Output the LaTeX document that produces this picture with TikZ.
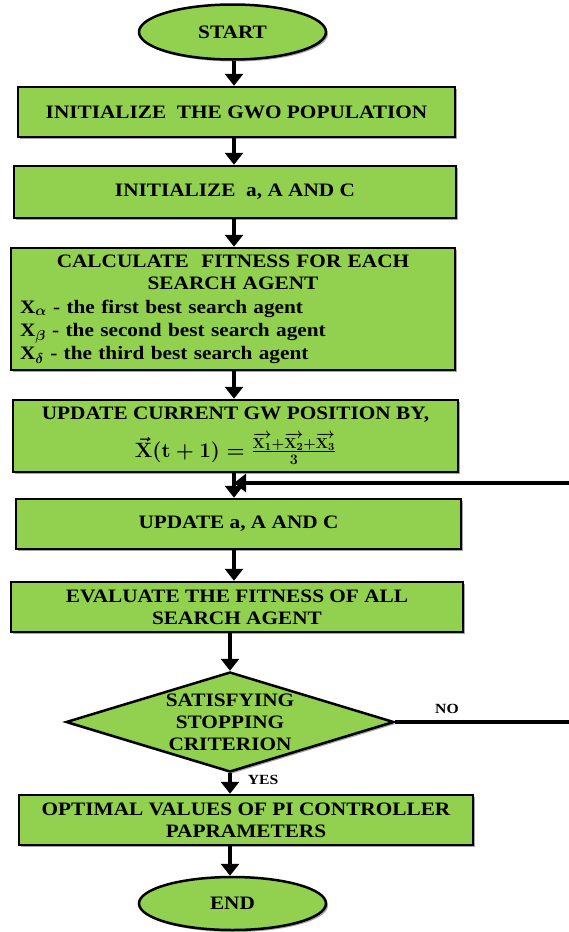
\documentclass[tikz,border=0pt]{standalone}
\usepackage{amsmath}
\usepackage{fontspec}
\setmainfont{Liberation Serif}[FakeStretch=1.12]
\usetikzlibrary{shapes.geometric,arrows.meta,shadows}
\definecolor{gwgreen}{RGB}{146,208,80}
\tikzset{
  base/.style={draw=black, line width=2.5pt, fill=gwgreen,
    drop shadow={shadow xshift=2pt, shadow yshift=-2pt, fill=black, opacity=0.35},
    font=\fontsize{19}{22}\selectfont\bfseries, align=center, inner sep=4pt},
  box/.style={base, rectangle},
  term/.style={base, ellipse, minimum width=187pt, minimum height=55pt},
  decision/.style={base, diamond, aspect=3.28, inner sep=0pt},
  flow/.style={line width=4.5pt, -{Triangle[length=12pt,width=18pt]}},
  plain/.style={line width=4.5pt},
  lbl/.style={font=\fontsize{14}{16}\selectfont\bfseries}
}
\begin{document}
\begin{tikzpicture}[x=1pt,y=1pt]
\useasboundingbox (0,0) rectangle (569,-932);
\coordinate (col) at (234,0);

\node[term] (start) at (232.5,-32) {START};
\node[box, minimum width=437pt, minimum height=50pt] (init) at (236.5,-112) {INITIALIZE~ THE GWO POPULATION};
\node[box, minimum width=442pt, minimum height=52pt] (initc) at (235,-192) {INITIALIZE~ a, A AND C};
\node[box, minimum width=444pt, minimum height=122pt, text width=432pt] (calc) at (233,-309)
  {\centering CALCULATE~ FITNESS FOR EACH\\ SEARCH AGENT\par\vspace{1pt}
   \fontsize{19}{23}\selectfont\raggedright
   \hspace*{3pt}X\textsubscript{$\boldsymbol{\alpha}$} - the first best search agent\\
   \hspace*{3pt}X\textsubscript{$\boldsymbol{\beta}$} - the second best search agent\\
   \hspace*{3pt}X\textsubscript{$\boldsymbol{\delta}$} - the third best search agent\par};
\node[box, minimum width=445pt, minimum height=72pt] (upd) at (235.5,-436)
  {UPDATE CURRENT GW POSITION BY,\\[9pt]
   {\fontsize{21}{24}\selectfont\boldmath$\vec{\mathbf{X}}(\mathbf{t}+\mathbf{1})=\frac{\overrightarrow{\mathbf{X_1}}+\overrightarrow{\mathbf{X_2}}+\overrightarrow{\mathbf{X_3}}}{\mathbf{3}}$}};
\node[box, minimum width=445pt, minimum height=50pt] (upda) at (238.5,-524) {UPDATE a, A AND C};
\node[box, minimum width=452pt, minimum height=50pt] (eval) at (237,-607) {EVALUATE THE FITNESS OF ALL\\ SEARCH AGENT};
\node[decision, minimum width=328pt, minimum height=100pt] (stop) at (230,-722) {SATISFYING\\ STOPPING\\ CRITERION};
\node[box, minimum width=454pt, minimum height=50pt] (opt) at (246,-820) {OPTIMAL VALUES OF PI CONTROLLER\\ PAPRAMETERS};
\node[term, minimum height=53pt] (end) at (232.5,-903.5) {END};

\coordinate (r1) at (569,-722);
\coordinate (r2) at (569,-483);

\draw[flow] (start.south -| col) -- (init.north -| col);
\draw[flow] (init.south -| col) -- (initc.north -| col);
\draw[flow] (initc.south -| col) -- (calc.north -| col);
\draw[flow] (calc.south -| col) -- (upd.north -| col);
\draw[flow] (upd.south -| col) -- (upda.north -| col);
\draw[flow] (upda.south -| col) -- (eval.north -| col);
\draw[flow] (eval.south -| stop.north) -- (stop.north);
\draw[flow] (stop.south) -- (opt.north -| stop.south);
\draw[flow] (opt.south -| stop.south) -- (end.north -| stop.south);

\draw[plain] (stop.east) -- (r1);
\draw[flow] (r2) -- (r2 -| col);

\node[lbl] (no) at (447,-709) {NO};
\node[lbl] (yes) at (263,-780) {YES};
\end{tikzpicture}
\end{document}
